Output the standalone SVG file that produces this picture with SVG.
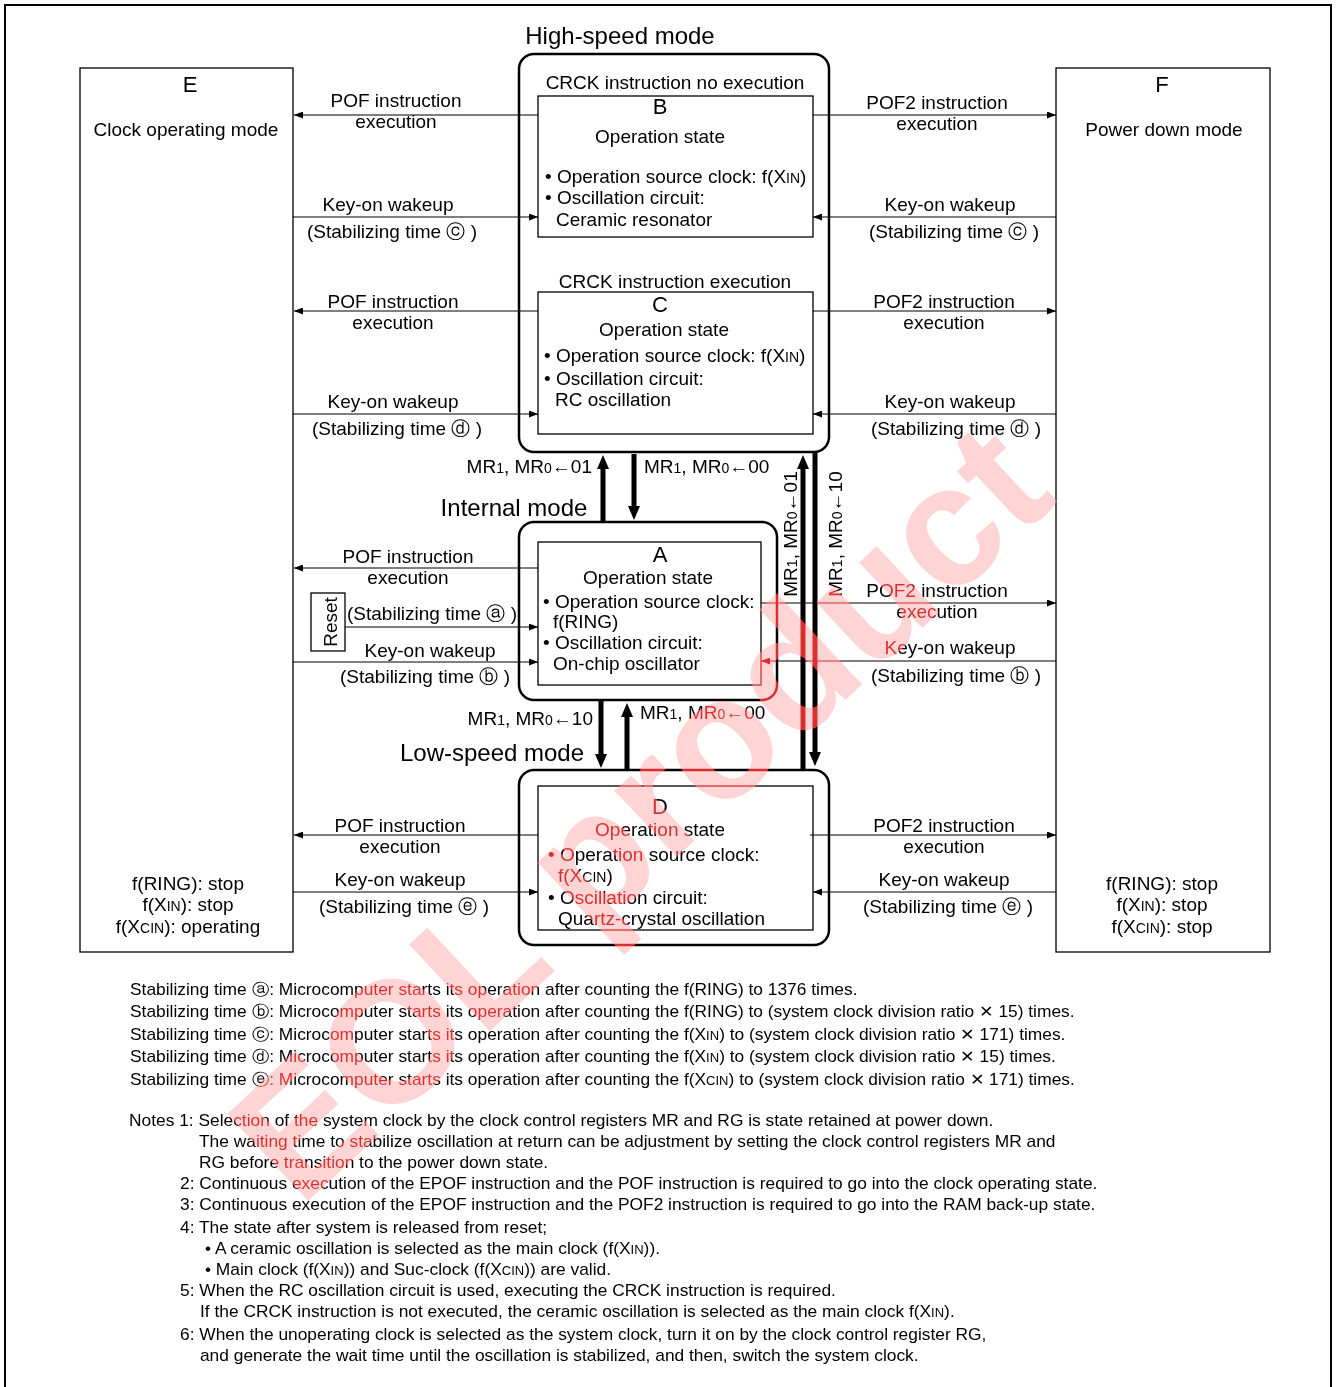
<svg xmlns="http://www.w3.org/2000/svg" width="1337" height="1387" viewBox="0 0 1337 1387">
<defs>
<style>
text{font-family:"Liberation Sans",Arial,sans-serif;fill:#000}
.l{font-size:19px}
.t{font-size:24px}
.h{font-size:22px}
.n{font-size:16px}
.m{text-anchor:middle}
.e{text-anchor:end}
.box{fill:none;stroke:#000;stroke-width:1.3}
.rbox{fill:none;stroke:#000;stroke-width:2.5}
.thin{stroke:#000;stroke-width:1.2;fill:none;marker-end:url(#ah)}
.thick{stroke:#000;stroke-width:5;fill:none;marker-end:url(#th)}
.wm{font-family:"Liberation Sans",Arial,sans-serif;font-weight:bold;font-size:172px;text-anchor:middle}
</style>
<marker id="ah" markerUnits="userSpaceOnUse" markerWidth="9" markerHeight="7" refX="9" refY="3.5" orient="auto"><path d="M0,0L9,3.5L0,7z" fill="#000"/></marker>
<marker id="th" markerUnits="userSpaceOnUse" markerWidth="14" markerHeight="12" refX="0" refY="6" orient="auto"><path d="M0,0L14,6L0,12z" fill="#000"/></marker>
</defs>
<rect x="0" y="0" width="1337" height="1387" fill="#fff"/>
<g id="watermark-base">
<text class="wm" style="fill:#ffcaca" transform="translate(640,812) rotate(-43)" y="58">EOL product</text>
</g>
<rect x="5" y="5" width="1326" height="1400" fill="none" stroke="#000" stroke-width="2"/>

<g id="nodeE">
<rect class="box" x="80" y="68" width="213" height="884"/>
<text class="h m" x="190" y="92">E</text>
<text class="l m" x="186" y="136">Clock operating mode</text>
<text class="l m" x="188" y="890">f(RING): stop</text>
<text class="l m" x="188" y="911">f(X<tspan font-size="14">IN</tspan>): stop</text>
<text class="l m" x="188" y="933">f(X<tspan font-size="14">CIN</tspan>): operating</text>
</g>

<g id="nodeF">
<rect class="box" x="1056" y="68" width="214" height="884"/>
<text class="h m" x="1162" y="92">F</text>
<text class="l m" x="1164" y="136">Power down mode</text>
<text class="l m" x="1162" y="890">f(RING): stop</text>
<text class="l m" x="1162" y="911">f(X<tspan font-size="14">IN</tspan>): stop</text>
<text class="l m" x="1162" y="933">f(X<tspan font-size="14">CIN</tspan>): stop</text>
</g>

<g id="highspeed">
<rect class="rbox" x="519" y="54" width="310" height="398" rx="15"/>
<text class="t m" x="620" y="44">High-speed mode</text>
<text class="l m" x="675" y="89">CRCK instruction no execution</text>
<text class="l m" x="675" y="288">CRCK instruction execution</text>
</g>

<g id="nodeB">
<rect class="box" x="538" y="96" width="275" height="141"/>
<text class="h m" x="660" y="114">B</text>
<text class="l m" x="660" y="143">Operation state</text>
<text class="l" x="545" y="183">• Operation source clock: f(X<tspan font-size="14">IN</tspan>)</text>
<text class="l" x="545" y="204">• Oscillation circuit:</text>
<text class="l" x="556" y="226">Ceramic resonator</text>
</g>

<g id="nodeC">
<rect class="box" x="538" y="292" width="275" height="142"/>
<text class="h m" x="660" y="312">C</text>
<text class="l m" x="664" y="336">Operation state</text>
<text class="l" x="544" y="362">• Operation source clock: f(X<tspan font-size="14">IN</tspan>)</text>
<text class="l" x="544" y="385">• Oscillation circuit:</text>
<text class="l" x="555" y="406">RC oscillation</text>
</g>

<g id="internal">
<rect class="rbox" x="519" y="522" width="258" height="178" rx="15"/>
<text class="t m" x="514" y="516">Internal mode</text>
</g>

<g id="nodeA">
<rect class="box" x="538" y="542" width="223" height="143"/>
<text class="h m" x="660" y="562">A</text>
<text class="l m" x="648" y="584">Operation state</text>
<text class="l" x="543" y="608">• Operation source clock:</text>
<text class="l" x="553" y="628">f(RING)</text>
<text class="l" x="543" y="649">• Oscillation circuit:</text>
<text class="l" x="553" y="670">On-chip oscillator</text>
</g>

<g id="reset">
<rect class="box" x="311" y="593" width="34" height="58"/>
<text class="l m" transform="translate(337,622) rotate(-90)">Reset</text>
</g>

<g id="lowspeed">
<rect class="rbox" x="519" y="770" width="310" height="175" rx="15"/>
<text class="t m" x="492" y="761">Low-speed mode</text>
</g>

<g id="nodeD">
<rect class="box" x="538" y="786" width="275" height="144"/>
<text class="h m" x="660" y="814">D</text>
<text class="l m" x="660" y="836">Operation state</text>
<text class="l" x="548" y="861">• Operation source clock:</text>
<text class="l" x="558" y="882">f(X<tspan font-size="14">CIN</tspan>)</text>
<text class="l" x="548" y="904">• Oscillation circuit:</text>
<text class="l" x="558" y="925">Quartz-crystal oscillation</text>
</g>

<g id="connectors">
<line class="thin" x1="538" y1="115" x2="294" y2="115"/>
<line class="thin" x1="293" y1="217" x2="538" y2="217"/>
<line class="thin" x1="813" y1="115" x2="1056" y2="115"/>
<line class="thin" x1="1056" y1="217" x2="813" y2="217"/>
<line class="thin" x1="538" y1="311" x2="294" y2="311"/>
<line class="thin" x1="293" y1="414" x2="538" y2="414"/>
<line class="thin" x1="813" y1="311" x2="1056" y2="311"/>
<line class="thin" x1="1056" y1="414" x2="813" y2="414"/>
<line class="thin" x1="538" y1="568" x2="294" y2="568"/>
<line class="thin" x1="345" y1="627" x2="538" y2="627"/>
<line class="thin" x1="293" y1="662" x2="538" y2="662"/>
<line class="thin" x1="761" y1="603" x2="1056" y2="603"/>
<line class="thin" x1="1056" y1="661" x2="761" y2="661"/>
<line class="thin" x1="538" y1="835" x2="294" y2="835"/>
<line class="thin" x1="293" y1="892" x2="538" y2="892"/>
<line class="thin" x1="810" y1="835" x2="1056" y2="835"/>
<line class="thin" x1="1056" y1="892" x2="813" y2="892"/>
<line class="thick" x1="603" y1="521" x2="603" y2="469"/>
<line class="thick" x1="634" y1="454" x2="634" y2="506"/>
<line class="thick" x1="601" y1="701" x2="601" y2="754"/>
<line class="thick" x1="627" y1="770" x2="627" y2="717"/>
<line class="thick" x1="803" y1="770" x2="803" y2="469"/>
<line class="thick" x1="815" y1="453" x2="815" y2="752"/>

<text class="l m" x="396" y="107">POF instruction</text>
<text class="l m" x="396" y="128">execution</text>
<text class="l m" x="388" y="211">Key-on wakeup</text>
<text class="l m" x="392" y="238">(Stabilizing time ⓒ )</text>
<text class="l m" x="937" y="109">POF2 instruction</text>
<text class="l m" x="937" y="130">execution</text>
<text class="l m" x="950" y="211">Key-on wakeup</text>
<text class="l m" x="954" y="238">(Stabilizing time ⓒ )</text>

<text class="l m" x="393" y="308">POF instruction</text>
<text class="l m" x="393" y="329">execution</text>
<text class="l m" x="393" y="408">Key-on wakeup</text>
<text class="l m" x="397" y="435">(Stabilizing time ⓓ )</text>
<text class="l m" x="944" y="308">POF2 instruction</text>
<text class="l m" x="944" y="329">execution</text>
<text class="l m" x="950" y="408">Key-on wakeup</text>
<text class="l m" x="956" y="435">(Stabilizing time ⓓ )</text>

<text class="l m" x="408" y="563">POF instruction</text>
<text class="l m" x="408" y="584">execution</text>
<text class="l" x="347" y="620">(Stabilizing time ⓐ )</text>
<text class="l m" x="430" y="657">Key-on wakeup</text>
<text class="l m" x="425" y="683">(Stabilizing time ⓑ )</text>
<text class="l m" x="937" y="597">POF2 instruction</text>
<text class="l m" x="937" y="618">execution</text>
<text class="l m" x="950" y="654">Key-on wakeup</text>
<text class="l m" x="956" y="682">(Stabilizing time ⓑ )</text>

<text class="l m" x="400" y="832">POF instruction</text>
<text class="l m" x="400" y="853">execution</text>
<text class="l m" x="400" y="886">Key-on wakeup</text>
<text class="l m" x="404" y="913">(Stabilizing time ⓔ )</text>
<text class="l m" x="944" y="832">POF2 instruction</text>
<text class="l m" x="944" y="853">execution</text>
<text class="l m" x="944" y="886">Key-on wakeup</text>
<text class="l m" x="948" y="913">(Stabilizing time ⓔ )</text>

<text class="l e" x="592" y="473">MR<tspan font-size="14">1</tspan>, MR<tspan font-size="14">0</tspan>←01</text>
<text class="l" x="644" y="473">MR<tspan font-size="14">1</tspan>, MR<tspan font-size="14">0</tspan>←00</text>
<text class="l e" x="593" y="725">MR<tspan font-size="14">1</tspan>, MR<tspan font-size="14">0</tspan>←10</text>
<text class="l" x="640" y="719">MR<tspan font-size="14">1</tspan>, MR<tspan font-size="14">0</tspan>←00</text>
<text class="l m" transform="translate(797,534) rotate(-90)">MR<tspan font-size="14">1</tspan>, MR<tspan font-size="14">0</tspan>←01</text>
<text class="l m" transform="translate(842,534) rotate(-90)">MR<tspan font-size="14">1</tspan>, MR<tspan font-size="14">0</tspan>←10</text>
</g>

<g id="legend" transform="matrix(1.085,0,0,1,-11.05,0)">
<text class="n" x="130" y="995">Stabilizing time ⓐ: Microcomputer starts its operation after counting the f(RING) to 1376 times.</text>
<text class="n" x="130" y="1017">Stabilizing time ⓑ: Microcomputer starts its operation after counting the f(RING) to (system clock division ratio ✕ 15) times.</text>
<text class="n" x="130" y="1040">Stabilizing time ⓒ: Microcomputer starts its operation after counting the f(X<tspan font-size="12">IN</tspan>) to (system clock division ratio ✕ 171) times.</text>
<text class="n" x="130" y="1062">Stabilizing time ⓓ: Microcomputer starts its operation after counting the f(X<tspan font-size="12">IN</tspan>) to (system clock division ratio ✕ 15) times.</text>
<text class="n" x="130" y="1085">Stabilizing time ⓔ: Microcomputer starts its operation after counting the f(X<tspan font-size="12">CIN</tspan>) to (system clock division ratio ✕ 171) times.</text>
</g>

<g id="notes" transform="matrix(1.085,0,0,1,-11.05,0)">
<text class="n" x="129.1" y="1126">Notes 1: Selection of the system clock by the clock control registers MR and RG is state retained at power down.</text>
<text class="n" x="193.6" y="1147">The waiting time to stabilize oscillation at return can be adjustment by setting the clock control registers MR and</text>
<text class="n" x="193.6" y="1168">RG before transition to the power down state.</text>
<text class="n" x="176.1" y="1189">2: Continuous execution of the EPOF instruction and the POF instruction is required to go into the clock operating state.</text>
<text class="n" x="176.1" y="1210">3: Continuous execution of the EPOF instruction and the POF2 instruction is required to go into the RAM back-up state.</text>
<text class="n" x="176.1" y="1233">4: The state after system is released from reset;</text>
<text class="n" x="199.1" y="1254">• A ceramic oscillation is selected as the main clock (f(X<tspan font-size="12">IN</tspan>)).</text>
<text class="n" x="199.1" y="1275">• Main clock (f(X<tspan font-size="12">IN</tspan>)) and Suc-clock (f(X<tspan font-size="12">CIN</tspan>)) are valid.</text>
<text class="n" x="176.1" y="1296">5: When the RC oscillation circuit is used, executing the CRCK instruction is required.</text>
<text class="n" x="194.5" y="1317">If the CRCK instruction is not executed, the ceramic oscillation is selected as the main clock f(X<tspan font-size="12">IN</tspan>).</text>
<text class="n" x="176.1" y="1340">6: When the unoperating clock is selected as the system clock, turn it on by the clock control register RG,</text>
<text class="n" x="194.5" y="1361">and generate the wait time until the oscillation is stabilized, and then, switch the system clock.</text>
</g>

<g id="watermark" style="mix-blend-mode:screen">
<text class="wm" style="fill:#d83030" transform="translate(640,812) rotate(-43)" y="58">EOL product</text>
</g>
</svg>
